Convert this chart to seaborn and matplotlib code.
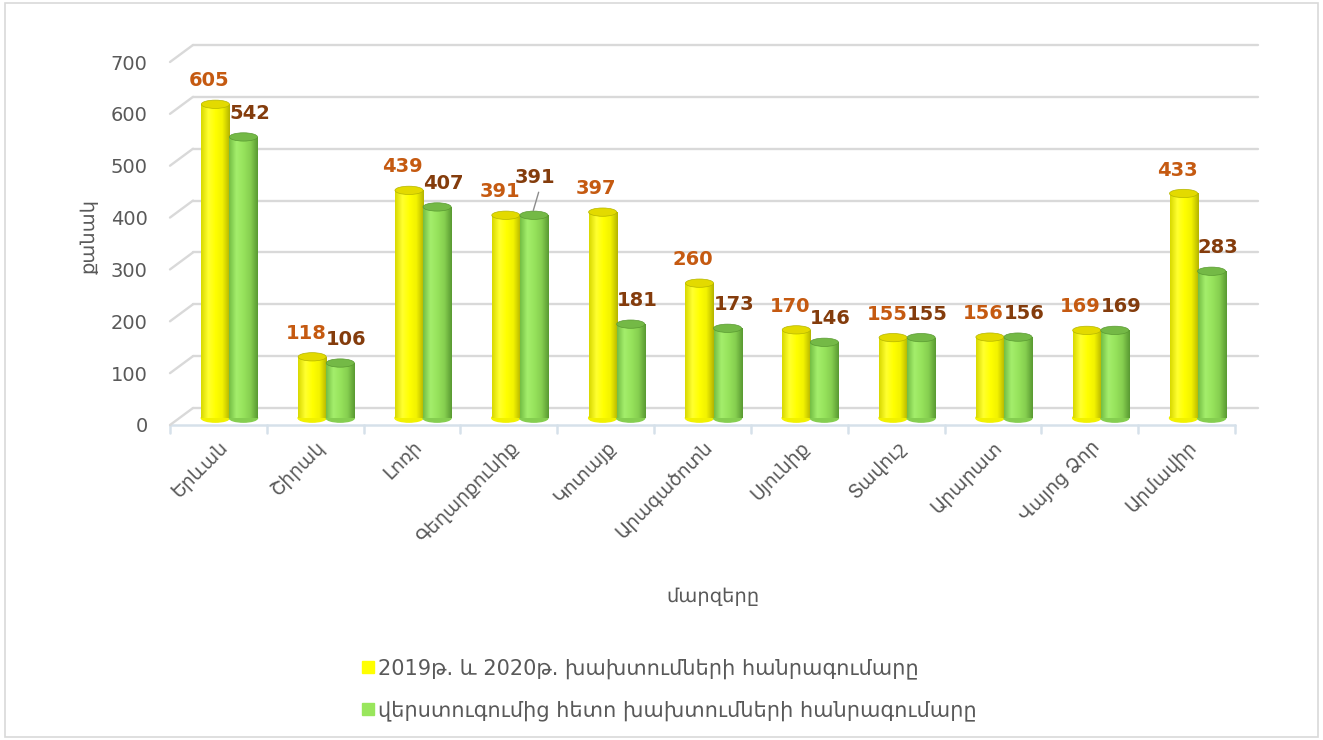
import numpy as np
import pandas as pd
import matplotlib
matplotlib.use("Agg")
import matplotlib.pyplot as plt
from matplotlib.patches import Ellipse, Rectangle
from matplotlib.lines import Line2D
from matplotlib.transforms import ScaledTranslation
import seaborn as sns

# data
regions = ["Երևան", "Շիրակ", "Լոռի", "Գեղարքունիք", "Կոտայք", "Արագածոտն",
           "Սյունիք", "Տավուշ", "Արարատ", "Վայոց Ձոր", "Արմավիր"]
totals_2019_2020 = [605, 118, 439, 391, 397, 260, 170, 155, 156, 169, 433]
after_recheck = [542, 106, 407, 391, 181, 173, 146, 155, 156, 169, 283]
series_names = ["2019թ. և 2020թ. խախտումների հանրագումարը",
                "վերստուգումից հետո խախտումների հանրագումարը"]
y_ticks = [0, 100, 200, 300, 400, 500, 600, 700]

yellow = "#FFFF00"
green = "#99E65C"
label_colors = ["#C55A11", "#843C0C"]
text_gray = "#595959"
grid_gray = "#D9D9D9"

df = pd.DataFrame({
    "region": regions * 2,
    "count": totals_2019_2020 + after_recheck,
    "series": [series_names[0]] * len(regions) + [series_names[1]] * len(regions),
})

sns.set_style("white")
plt.rcParams["font.family"] = ["DejaVu Sans"]

fig = plt.figure(figsize=(13.23, 7.4), dpi=100)
# axes frame sits at the "middle depth" of the fake 3D box
ax = fig.add_axes([181 / 1323, 1 - 418 / 740, 1065 / 1323, 363 / 740])


def shift(dx, dy):
    # pixel offset (dy positive = down on the picture)
    return ScaledTranslation(dx / 100, -dy / 100, fig.dpi_scale_trans)


sns.barplot(data=df, x="region", y="count", hue="series", palette=[yellow, green],
            width=0.58, gap=0.0, saturation=1, ax=ax, legend=False)

ax.set_ylim(0, 700)
ax.set_yticks(y_ticks)
ax.set_xlim(-0.5, len(regions) - 0.5)
for s in ["top", "right", "left", "bottom"]:
    ax.spines[s].set_visible(False)
ax.tick_params(axis="y", length=0, labelsize=14, labelcolor=text_gray, pad=24)
ax.tick_params(axis="x", length=0, labelsize=13.5, labelcolor=text_gray, pad=14)
plt.setp(ax.get_xticklabels(), rotation=45, ha="right", rotation_mode="anchor")
for t in ax.get_yticklabels():
    t.set_transform(t.get_transform() + shift(0, 7))
for t in ax.get_xticklabels():
    t.set_transform(t.get_transform() + shift(-11, 0))

# back wall gridlines with short perspective edges on the left
blend = ax.get_yaxis_transform()
W, H = fig.bbox.width, fig.bbox.height
for v in y_ticks:
    ax.plot([0, 1], [v, v], color=grid_gray, lw=1.7, transform=blend + shift(12, -10),
            clip_on=False, zorder=0)
    p0 = (blend + shift(-11, 7)).transform((0, v))
    p1 = (blend + shift(12, -10)).transform((0, v))
    fig.lines.append(Line2D([p0[0] / W, p1[0] / W], [p0[1] / H, p1[1] / H],
                            transform=fig.transFigure, color=grid_gray, lw=1.7, zorder=0))
# front floor edge and category separators
floor_c = "#D6E1EA"
ax.plot([0, 1], [0, 0], color=floor_c, lw=1.8, transform=blend + shift(-11, 7), clip_on=False)
for i in range(len(regions) + 1):
    ax.plot([i - 0.5, i - 0.5], [0, -16], color=floor_c, lw=1.8, clip_on=False,
            transform=ax.transData + shift(-11, 7))

ax.set_xlabel("մարզերը", fontsize=14, color=text_gray, labelpad=29)
ax.set_ylabel("քանակ", fontsize=14, color=text_gray, labelpad=9)

# cylinder look: gradient fill clipped to each bar plus elliptical caps
cmaps = [
    matplotlib.colors.LinearSegmentedColormap.from_list("y", ["#D9D900", "#FFFF30", "#FFFF00", "#F2F200", "#B5B500"]),
    matplotlib.colors.LinearSegmentedColormap.from_list("g", ["#74BE44", "#A4EE6C", "#97E35C", "#86CF50", "#5A9A32"]),
]
cap_colors = ["#E3DA00", "#74B946"]
grad = np.linspace(0, 1, 64).reshape(1, -1)
cap_h = 16
for k, cont in enumerate(ax.containers):
    for p in cont.patches:
        x, w, h = p.get_x(), p.get_width(), p.get_height()
        p.set_edgecolor("none")
        im = ax.imshow(grad, cmap=cmaps[k], aspect="auto", extent=[x, x + w, 0, h],
                       zorder=p.get_zorder() + 0.1)
        im.set_clip_path(p)
        ax.add_patch(Ellipse((x + w / 2, 0), w, cap_h, color=cmaps[k](0.75),
                             zorder=p.get_zorder() + 0.05, clip_on=False))
        ax.add_patch(Ellipse((x + w / 2, h), w, cap_h, facecolor=cap_colors[k],
                             edgecolor=cmaps[k](1.0), lw=0.5, zorder=p.get_zorder() + 0.2))
ax.set_xlim(-0.5, len(regions) - 0.5)
ax.set_ylim(0, 700)

# value labels
offsets = [(-4.5, 10), (4.5, 10)]
for k, cont in enumerate(ax.containers):
    texts = ax.bar_label(cont, padding=10, color=label_colors[k], fontsize=14,
                         fontweight="bold")
    for t in texts:
        t.set_position(offsets[k])
    if k == 1:
        # the Gegharkunik green label is lifted above its yellow twin, with a leader line
        gi = regions.index("Գեղարքունիք")
        texts[gi].set_position((1, 20))
        p = cont.patches[gi]
        ax.annotate("", xy=(p.get_x() + p.get_width() * 0.45, p.get_height() + 4),
                    xytext=(5, 17), textcoords="offset points",
                    arrowprops=dict(arrowstyle="-", color="#8C8C8C", lw=1.0))

# legend
handles = [Line2D([], [], marker="s", ls="none", markersize=8, color=c) for c in [yellow, green]]
fig.legend(handles, series_names, loc="center left", bbox_to_anchor=(0.258, 0.068),
           frameon=False, fontsize=15, labelcolor=text_gray, handletextpad=0.05,
           labelspacing=1.0, handlelength=0.8)

fig.patches.append(Rectangle((0.004, 0.004), 0.992, 0.992, transform=fig.transFigure,
                             fill=False, edgecolor=grid_gray, lw=1.2))

fig.savefig("out.png", dpi=100, facecolor="white")
